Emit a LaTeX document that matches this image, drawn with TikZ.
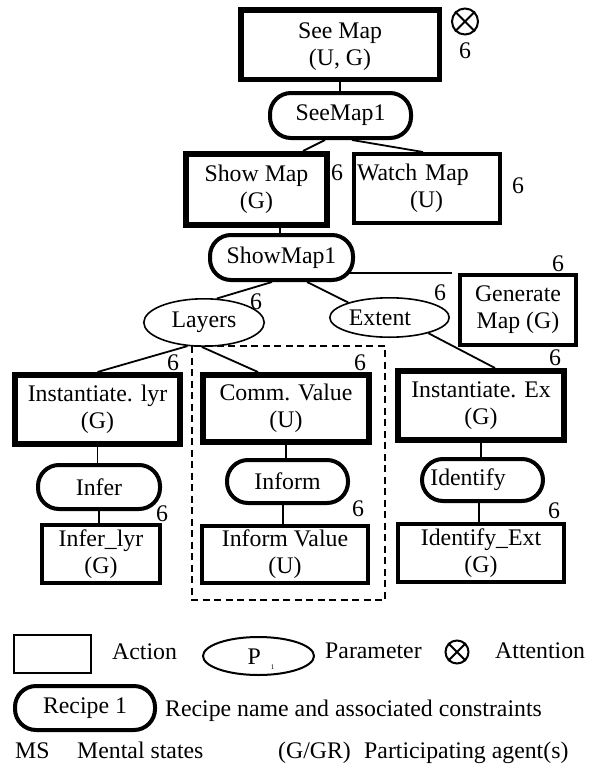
\documentclass[tikz,border=0pt]{standalone}
\usepackage{fontspec}
\setmainfont{Liberation Serif}
\usetikzlibrary{shapes.geometric}
\begin{document}
\begin{tikzpicture}[x=1pt,y=-1pt,
  font=\fontsize{23.8}{27}\selectfont,
  thickbox/.style={draw, line width=6pt, inner sep=0pt, align=center},
  medbox/.style={draw, line width=4pt, inner sep=0pt, align=center},
  recipe/.style={draw, line width=4pt, inner sep=0pt, rounded corners=21pt},
  ell/.style={draw, ellipse, line width=1.6pt, inner sep=0pt},
  conn/.style={line width=1.8pt},
  txt/.style={inner sep=0pt, text height=16pt, text depth=0pt},
  att/.style={circle, draw, line width=2pt, inner sep=0pt},
  attx/.style={line width=2pt}]
\useasboundingbox (0,0) rectangle (592,766);

% dashed group frame
\draw[line width=1.6pt, dash pattern=on 7pt off 4.5pt] (192,346) rectangle (385,600);

% tree nodes
\node[thickbox, line width=5.5pt, minimum width=198.5pt, minimum height=69.5pt] (seemap) at (340,44.5) {\\[-6pt]See Map\\(U, G)};
\node[recipe, minimum width=141pt, minimum height=45pt] (seemap1) at (340.5,115.5) {SeeMap1};
\node[thickbox, minimum width=141pt, minimum height=71pt] (showmap) at (256.5,189.5) {Show Map\\(G)};
\node[medbox, minimum width=146pt, minimum height=69pt, text width=140pt, inner xsep=3pt, align=left] (watch) at (427,188.5) {Watch Map\\\hspace*{53pt}(U)};
\node[recipe, minimum width=143pt, minimum height=45pt] (showmap1) at (281.5,257.5) {ShowMap1};
\node[medbox, minimum width=116pt, minimum height=70pt] (generate) at (518,310) {Generate\\Map (G)};
\node[ell, minimum width=120.4pt, minimum height=47.4pt] (layers) at (204,322.5) {Layers};
\node[ell, minimum width=119.4pt, minimum height=39.4pt] (extent) at (389.5,317.5) {\hspace*{-19pt}Extent};
\node[thickbox, minimum width=165pt, minimum height=69pt] (instlyr) at (97.5,409.5) {Instantiate. lyr\\(G)};
\node[thickbox, minimum width=166pt, minimum height=67pt] (comm) at (286,408.5) {Comm. Value\\(U)};
\node[thickbox, minimum width=166pt, minimum height=69pt] (instex) at (481,405.5) {Instantiate. Ex\\(G)};
\node[recipe, minimum width=122pt, minimum height=44pt] (infer) at (99,487) {Infer};
\node[medbox, minimum width=118pt, minimum height=58pt] (inferlyr) at (101,554) {Infer\_lyr\\(G)};
\node[recipe, minimum width=121pt, minimum height=43pt] (inform) at (287.5,481.5) {Inform};
\node[medbox, minimum width=166pt, minimum height=57pt] (informv) at (285,554.5) {Inform Value\\(U)};
\node[recipe, minimum width=121pt, minimum height=42pt] (identify) at (482.5,480) {\hspace*{-29pt}Identify};
\node[medbox, minimum width=166pt, minimum height=58pt] (identext) at (481,553) {Identify\_Ext\\(G)};

% attention mark
\node[att, minimum size=26pt] (att1) at (465,21.5) {};
\draw[attx] (att1.45) -- (att1.225) (att1.135) -- (att1.-45);

% mental state marks
\node[txt] (m1) at (465,50) {6};
\node[txt] (m2) at (337,172) {6};
\node[txt] (m3) at (518,185) {6};
\node[txt] (m4) at (558,263) {6};
\node[txt] (m5) at (256,301) {6};
\node[txt] (m6) at (440,292) {6};
\node[txt] (m7) at (173,362) {6};
\node[txt] (m8) at (360,362) {6};
\node[txt] (m9) at (555,357) {6};
\node[txt] (m10) at (162,513) {6};
\node[txt] (m11) at (358,508) {6};
\node[txt] (m12) at (554,510) {6};

% connectors
\draw[conn] (seemap.south) -- (seemap.south |- seemap1.north);
\draw[conn] ([xshift=-15.5pt]seemap1.south) -- ([xshift=46.5pt]showmap.north);
\draw[conn] ([xshift=11.5pt]seemap1.south) -- ([xshift=-4pt]watch.north);
\draw[conn] ([xshift=23.5pt]showmap.south) -- ([xshift=23.5pt]showmap.south |- showmap1.north);
\draw[conn] ([xshift=-6pt,yshift=-15.5pt]showmap1.east) -- ([xshift=-6pt,yshift=-15.5pt]showmap1.east -| generate.west);
\draw[conn] ([xshift=-9.5pt]showmap1.south) -- (layers.62);
\draw[conn] ([xshift=25.5pt]showmap1.south) -- (extent.160);
\draw[conn] (layers.235) -- (instlyr.north);
\draw[conn] (layers.265) -- ([xshift=-28pt]comm.north);
\draw[conn] (extent.-22) -- ([xshift=14pt]instex.north);
\draw[conn] (instlyr.south) -- (instlyr.south |- infer.north);
\draw[conn] (infer.south) -- (infer.south |- inferlyr.north);
\draw[conn] (comm.south) -- (comm.south |- inform.north);
\draw[conn] ([xshift=-4.5pt]inform.south) -- ([xshift=-4.5pt]inform.south |- informv.north);
\draw[conn] (instex.south) -- (instex.south |- identify.north);
\draw[conn] ([xshift=-3.5pt]identify.south) -- ([xshift=-3.5pt]identify.south |- identext.north);

% legend
\node[draw, line width=2pt, minimum width=77pt, minimum height=38pt, inner sep=0pt] (legact) at (52.5,654) {};
\node[txt, anchor=west] (legacttxt) at (112,651) {Action};
\node[ell, line width=2pt, minimum width=111pt, minimum height=38pt, text height=16pt, text depth=0pt] (legpar) at (258.5,656) {\hspace*{5pt}P\hspace{10pt}\raisebox{-5pt}{\fontsize{7}{7}\selectfont 1}};
\node[txt, anchor=west] (legpartxt) at (325,650) {Parameter};
\node[att, minimum size=23pt] (att2) at (457,652) {};
\draw[attx] (att2.45) -- (att2.225) (att2.135) -- (att2.-45);
\node[txt, anchor=west] (legatttxt) at (495,650) {Attention};
\node[recipe, minimum width=140pt, minimum height=44pt] (legrec) at (85,708) {Recipe 1};
\node[txt, anchor=west] (legrectxt) at (165,708) {Recipe name and associated constraints};
\node[txt, anchor=west] (legms) at (15,750) {MS};
\node[txt, anchor=west] (legmstxt) at (77,750) {Mental states};
\node[txt, anchor=west] (legag) at (278,750) {(G/GR)};
\node[txt, anchor=west] (legagtxt) at (364,750) {Participating agent(s)};
\end{tikzpicture}
\end{document}
